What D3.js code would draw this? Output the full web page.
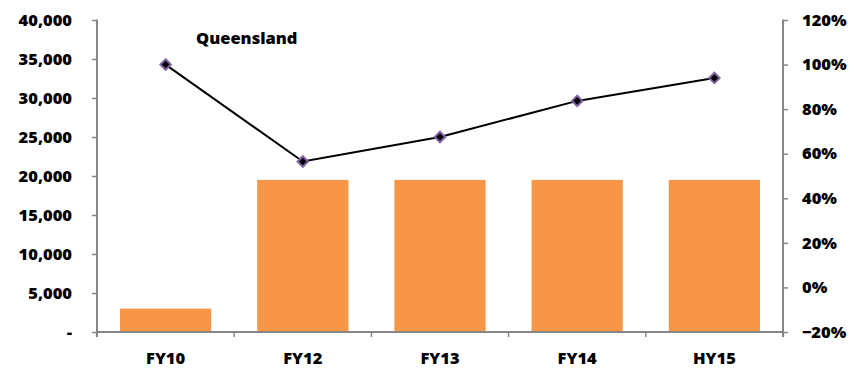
<!DOCTYPE html>
<html>
<head>
<meta charset="utf-8">
<script src="https://cdn.jsdelivr.net/npm/d3@7"></script>
<style>
  html, body { margin: 0; padding: 0; background: #fff; }
  svg text { font-family: "Open Sans", "DejaVu Sans", sans-serif; font-weight: 800; fill: #000; }
</style>
</head>
<body>
<svg id="chart" width="854" height="369"></svg>
<script>
// Categories and series
const categories = ["FY10", "FY12", "FY13", "FY14", "HY15"];
const barValues = [3000, 19500, 19500, 19500, 19500];
const lineValues = [1.00, 0.565, 0.675, 0.837, 0.94];
const leftTicks = [0, 5000, 10000, 15000, 20000, 25000, 30000, 35000, 40000];
const rightTicks = [-0.2, 0, 0.2, 0.4, 0.6, 0.8, 1.0, 1.2];
const title = "Queensland";

const svg = d3.select("#chart");
const plot = { left: 97, right: 783, top: 20, bottom: 332 };

const x = d3.scaleBand().domain(categories).range([plot.left, plot.right]).paddingInner(0.335).paddingOuter(0.1675);
const xBand = d3.scaleBand().domain(categories).range([plot.left, plot.right]);
const yL = d3.scaleLinear().domain([0, 40000]).range([plot.bottom, plot.top]);
const yR = d3.scaleLinear().domain([-0.2, 1.2]).range([plot.bottom, plot.top]);

const axisColor = "#868686";
const fontSize = 16.5;
const fmtLeft = d => d === 0 ? "-" : d3.format(",")(d);
const fmtRight = d => d3.format(".0%")(d);

// Bars
svg.append("g").selectAll("rect").data(barValues).join("rect")
  .attr("x", (d, i) => x(categories[i]))
  .attr("width", x.bandwidth())
  .attr("y", d => yL(d))
  .attr("height", d => yL(0) - yL(d))
  .attr("fill", "#F79646");

// Left axis
const gL = svg.append("g").attr("transform", `translate(${plot.left},0)`)
  .call(d3.axisLeft(yL).tickValues(leftTicks).tickFormat(fmtLeft).tickSize(5).tickPadding(20));
// Right axis
const gR = svg.append("g").attr("transform", `translate(${plot.right},0)`)
  .call(d3.axisRight(yR).tickValues(rightTicks).tickFormat(fmtRight).tickSize(5).tickPadding(14));
// Bottom axis: ticks at category boundaries
const boundaries = categories.map(c => xBand(c)).concat([plot.right]);
const gB = svg.append("g").attr("transform", `translate(0,${plot.bottom})`);
gB.append("line").attr("x1", plot.left).attr("x2", plot.right).attr("stroke", axisColor).attr("stroke-width", 2);
gB.selectAll("line.tk").data(boundaries).join("line").attr("class", "tk")
  .attr("x1", d => d).attr("x2", d => d).attr("y1", 0).attr("y2", 5)
  .attr("stroke", axisColor).attr("stroke-width", 1.5);
gB.selectAll("text").data(categories).join("text")
  .attr("x", d => xBand(d) + xBand.bandwidth() / 2)
  .attr("y", 32)
  .attr("text-anchor", "middle")
  .attr("font-size", fontSize)
  .text(d => d);

[gL, gR].forEach(g => {
  g.select(".domain").attr("stroke", axisColor).attr("stroke-width", 2);
  g.selectAll(".tick line").attr("stroke", axisColor).attr("stroke-width", 1.5);
  g.selectAll(".tick text").attr("font-size", fontSize).attr("font-family", "\"Open Sans\", sans-serif").attr("font-weight", 800).attr("fill", "#000");
});
gL.select(".domain").attr("d", `M0,${plot.top - 0.5}V${plot.bottom + 5}`);
gR.select(".domain").attr("d", `M0,${plot.top - 0.5}V${plot.bottom + 5}`);

// Line with diamond markers
const lineGen = d3.line()
  .x((d, i) => xBand(categories[i]) + xBand.bandwidth() / 2)
  .y(d => yR(d));
svg.append("path").datum(lineValues)
  .attr("d", lineGen)
  .attr("fill", "none")
  .attr("stroke", "#000")
  .attr("stroke-width", 2);

const diamond = d3.symbol().type(d3.symbolDiamond2).size(70);
svg.append("g").selectAll("path").data(lineValues).join("path")
  .attr("transform", (d, i) => `translate(${xBand(categories[i]) + xBand.bandwidth() / 2},${yR(d)})`)
  .attr("d", diamond)
  .attr("fill", "#000")
  .attr("stroke", "#8064A2")
  .attr("stroke-width", 2);

// Title
svg.append("text")
  .attr("x", 196)
  .attr("y", 44)
  .attr("font-size", fontSize)
  .text(title);
</script>
</body>
</html>
